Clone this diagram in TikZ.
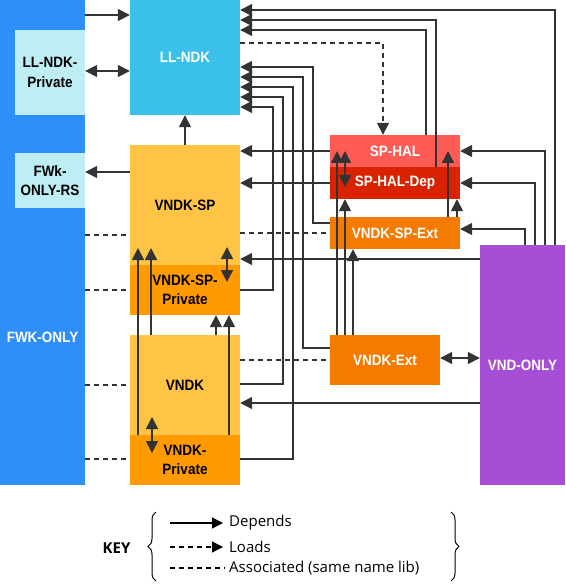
\documentclass[tikz,border=0pt]{standalone}
\usepackage{fontspec}
\setmainfont{Liberation Sans}
\newfontfamily\boxfont{Liberation Sans}[FakeStretch=0.9]
\newfontfamily\keyfont{Open Sans}
\usetikzlibrary{arrows.meta,decorations.pathreplacing}
\definecolor{fwkblue}{HTML}{2F8FF9}
\definecolor{llblue}{HTML}{3BC0E9}
\definecolor{lightcyan}{HTML}{BEEEF4}
\definecolor{vndkyellow}{HTML}{FFC445}
\definecolor{privorange}{HTML}{FF9B00}
\definecolor{halred}{HTML}{FF5B55}
\definecolor{depred}{HTML}{D92300}
\definecolor{extorange}{HTML}{F47B00}
\definecolor{vndpurple}{HTML}{A64FD6}
\definecolor{linegray}{HTML}{333333}
\begin{document}
\begin{tikzpicture}[x=1pt,y=-1pt,>={Triangle[length=12pt,width=12pt]},
  box/.style={inner sep=0pt,align=center,font=\boxfont\bfseries\fontsize{15}{19.5}\selectfont},
  dep/.style={draw=linegray,line width=1.5pt,->},
  dep2/.style={draw=linegray,line width=1.5pt,<->},
  load/.style={dep,dash pattern=on 5pt off 4pt},
  assoc/.style={draw=linegray,line width=1.5pt,dash pattern=on 5pt off 4pt},
  keyline/.style={draw=black,line width=1.2pt},
  keytext/.style={anchor=west,inner sep=0pt,font=\keyfont\fontsize{15}{17}\selectfont}]
\useasboundingbox (0,0) rectangle (565,585);
%Блоки
\node[box,fill=fwkblue,minimum width=85pt,minimum height=485pt] (fwk) at (42.5,242.5) {};
\node[box,text=white] (fwktext) at (42.5,337) {FWK-ONLY};
\node[box,fill=lightcyan,minimum width=70pt,minimum height=85pt] (llpriv) at (50,72.5) {LL-NDK-\\Private};
\node[box,fill=lightcyan,minimum width=70pt,minimum height=55pt] (rs) at (50,180.5) {FWk-\\ONLY-RS};
\node[box,fill=llblue,text=white,minimum width=110pt,minimum height=115pt] (llndk) at (185,57.5) {LL-NDK};
\node[box,fill=vndkyellow,minimum width=110pt,minimum height=120pt] (vndksp) at (185,205) {VNDK-SP};
\node[box,fill=privorange,minimum width=110pt,minimum height=50pt] (vndksppriv) at (185,290) {VNDK-SP-\\Private};
\node[box,fill=vndkyellow,minimum width=110pt,minimum height=100pt] (vndk) at (185,385) {VNDK};
\node[box,fill=privorange,minimum width=110pt,minimum height=50pt] (vndkpriv) at (185,460) {VNDK-\\Private};
\node[box,fill=halred,text=white,minimum width=130pt,minimum height=32pt] (sphal) at (395,151) {SP-HAL};
\node[box,fill=depred,text=white,minimum width=130pt,minimum height=32pt] (sphaldep) at (395,183) {SP-HAL-Dep};
\node[box,fill=extorange,text=white,minimum width=130pt,minimum height=32pt] (spext) at (395,233) {VNDK-SP-Ext};
\node[box,fill=extorange,text=white,minimum width=110pt,minimum height=50pt] (vndkext) at (385,360) {VNDK-Ext};
\node[box,fill=vndpurple,text=white,minimum width=85pt,minimum height=240pt] (vnd) at (522.5,365) {VND-ONLY};
%Связи слева
\draw[dep] (fwk.east |- 0,15) -- (llndk.west |- 0,15);
\draw[dep2] (llpriv.east |- 0,71) -- (llndk.west |- 0,71);
\draw[dep] (vndksp.north) -- (llndk.south);
\draw[dep] (vndksp.west |- 0,172) -- (rs.east |- 0,172);
\draw[assoc] (fwk.east |- 0,235) -- (vndksp.west |- 0,235);
\draw[assoc] (fwk.east |- vndksppriv.west) -- (vndksppriv.west);
\draw[assoc] (fwk.east |- vndk.west) -- (vndk.west);
\draw[assoc] (fwk.east |- 0,459) -- (vndkpriv.west |- 0,459);
%Связи в LL-NDK
\draw[load] (llndk.east |- 0,43) -| (sphal.north -| 383,0);
\draw[dep] (vnd.north -| 555,0) |- (llndk.east |- 0,10);
\draw[dep] (sphaldep.north -| 436,0) |- (llndk.east |- 0,20);
\draw[dep] (sphal.north -| 426,0) |- (llndk.east |- 0,30);
\draw[dep] (spext.west |- 0,223) -| (313,67) -- (llndk.east |- 0,67);
\draw[dep] (vndkext.west |- 0,348) -| (303,77) -- (llndk.east |- 0,77);
\draw[dep] (vndkpriv.east |- 0,459) -| (293,87) -- (llndk.east |- 0,87);
\draw[dep] (vndk.east |- 0,384) -| (283,97) -- (llndk.east |- 0,97);
\draw[dep] (vndksppriv.east) -| (273,107) -- (llndk.east |- 0,107);
%Связи в VNDK-SP и VNDK
\draw[dep] (sphal.west) -- (vndksp.east |- sphal.west);
\draw[dep] (sphaldep.west) -- (vndksp.east |- sphaldep.west);
\draw[assoc] (vndksp.east |- 0,233) -- (spext.west |- 0,233);
\draw[dep] (vnd.west |- 0,259) -- (vndksp.east |- 0,259);
\draw[dep] (vnd.west |- 0,403) -- (vndk.east |- 0,403);
\draw[assoc] (vndk.east |- vndkext.west) -- (vndkext.west);
\draw[dep2] (227,247) -- (227,282);
\draw[dep] (vndkpriv.north -| 138,0) -- (138,248);
\draw[dep] (vndk.north -| 151,0) -- (151,248);
\draw[dep] (vndk.north -| 216,0) -- (vndksppriv.south -| 216,0);
\draw[dep] (vndkpriv.north -| 229,0) -- (vndksppriv.south -| 229,0);
\draw[dep2] (152,417) -- (152,453);
%Связи справа
\draw[dep] (vnd.north -| 545,0) |- (sphal.east);
\draw[dep] (vnd.north -| 535,0) |- (sphaldep.east);
\draw[dep] (vnd.north -| 525,0) |- (spext.east |- 0,229);
\draw[dep2] (vndkext.east |- 0,358) -- (vnd.west |- 0,358);
\draw[dep] (vndkext.north -| 337,0) -- (sphal.center -| 337,0);
\draw[dep] (vndkext.north -| 345,0) -- (sphaldep.south -| 345,0);
\draw[dep] (vndkext.north -| 353,0) -- (spext.south -| 353,0);
\draw[dep2] (sphal.center -| 345,0) -- (345,187);
\draw[dep] (spext.north -| 448,0) -- (sphal.center -| 448,0);
\draw[dep] (spext.north -| 457,0) -- (sphaldep.south -| 457,0);
%Легенда
\node[font=\keyfont\bfseries\fontsize{15}{17}\selectfont] (key) at (116.5,548) {KEY};
\node[keytext] (kdep) at (229,523) {Depends};
\node[keytext] (kload) at (229,547) {Loads};
\node[keytext] (kassoc) at (229,568) {Associated (same name lib)};
\draw[keyline,-{Triangle[length=11pt,width=11pt]}] ([xshift=-59pt]kdep.west) -- ([xshift=-6pt]kdep.west);
\draw[keyline,dash pattern=on 5pt off 4pt,-{Triangle[length=11pt,width=11pt]}] ([xshift=-59pt]kload.west) -- ([xshift=-6pt]kload.west);
\draw[keyline,dash pattern=on 5pt off 4pt] ([xshift=-59pt]kassoc.west) -- ([xshift=-4pt]kassoc.west);
\draw[decorate,decoration={brace,amplitude=8pt},line width=1pt] (156,581) -- (156,512);
\draw[decorate,decoration={brace,amplitude=8pt},line width=1pt] (451,512) -- (451,581);
\end{tikzpicture}
\end{document}
